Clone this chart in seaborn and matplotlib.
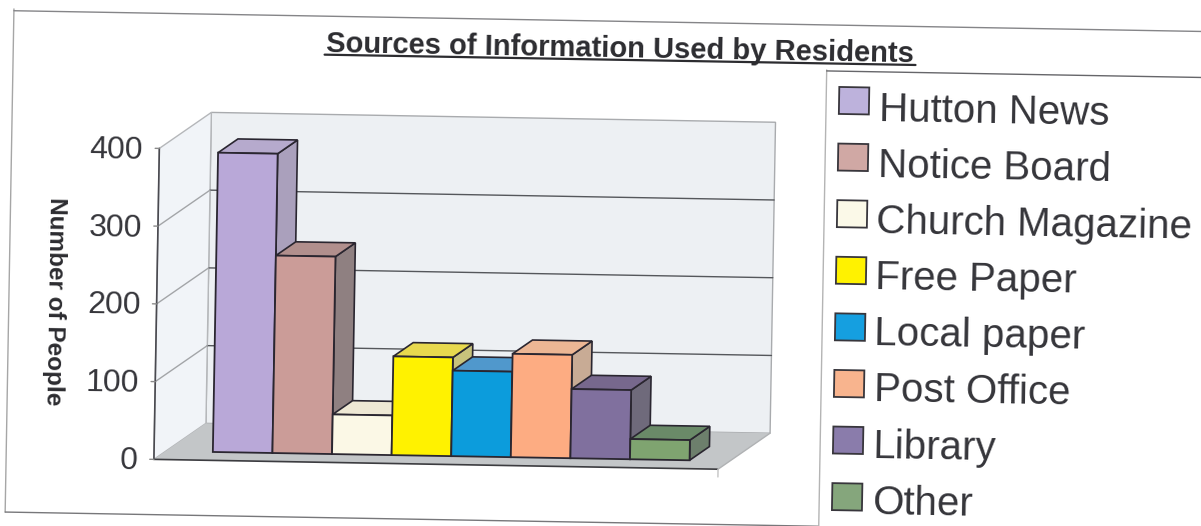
import matplotlib
matplotlib.use("Agg")
import matplotlib.pyplot as plt
import seaborn as sns
from matplotlib.lines import Line2D
from matplotlib.patches import Polygon, Rectangle
from matplotlib.transforms import Affine2D

# values
categories = ["Hutton News", "Notice Board", "Church Magazine", "Free Paper",
              "Local paper", "Post Office", "Library", "Other"]
people = [385, 254, 51, 127, 110, 133, 89, 26]
y_ticks = [0, 100, 200, 300, 400]

front_colors = ["#b9a8d8", "#cb9c98", "#fbf8e6", "#fff200",
                "#0c9cdc", "#fdac82", "#80709e", "#7fa470"]
side_colors = ["#aaa0bc", "#8f8081", "#d8d4c0", "#c8c37c",
               "#3f7fa8", "#c8ab95", "#6f6a7b", "#6d7f6c"]
top_colors = ["#b6aacd", "#b18f8d", "#eee8d4", "#e8d94e",
              "#5098cc", "#ecb694", "#77688d", "#6a8a68"]
legend_colors = ["#bdb2dc", "#d0a8a4", "#fbf9e8", "#fff200",
                 "#159fe0", "#f8b48e", "#8a7cab", "#85a67c"]

W, H = 1201, 526
PX_X = 59.6     # pixels per category
PX_Y = 0.7775   # pixels per person
BASE_X, BASE_Y = 216.2, 458.7

# depth of the fake 3d box
DX = 51.4 / PX_X
DY = 36.9 / PX_Y
BAR_D = 0.228
BAR_BACK = 0.61
X_LEFT = -1.29
X_RIGHT = 8.177

sns.set_theme(style="white")
plt.rcParams["font.family"] = ["Liberation Sans", "DejaVu Sans"]
TEXT = "#35353a"

fig = plt.figure(figsize=(W / 100, H / 100), dpi=100, facecolor="white")
ax = fig.add_axes([0, 0, 1, 1])

sns.barplot(x=categories, y=people, hue=categories, palette=front_colors,
            width=1, dodge=False, saturation=1, legend=False,
            edgecolor="#2a2630", linewidth=1.3, ax=ax)
bars = list(ax.patches)

ax.set_xlim(-0.5 - BASE_X / PX_X, -0.5 + (W - BASE_X) / PX_X)
ax.set_ylim(-(H - BASE_Y) / PX_Y, BASE_Y / PX_Y)
ax.axis("off")


def project(x, v, d):
    return (x + DX * (d - BAR_D), v + DY * (d - BAR_D))


top_v = y_ticks[-1]
# walls and floor
ax.add_patch(Polygon([project(X_LEFT, 0, 1), project(X_RIGHT, 0, 1),
                      project(X_RIGHT, top_v, 1), project(X_LEFT, top_v, 1)],
                     fc="#edf0f3", ec="#a9abae", lw=1, zorder=1))
ax.add_patch(Polygon([project(X_LEFT, 0, 0), project(X_LEFT, 0, 1),
                      project(X_LEFT, top_v, 1), project(X_LEFT, top_v, 0)],
                     fc="#f1f4f8", ec="#b5b7ba", lw=1, zorder=1))
ax.add_patch(Polygon([project(X_LEFT, 0, 0), project(X_RIGHT, 0, 0),
                      project(X_RIGHT, 0, 1), project(X_LEFT, 0, 1)],
                     fc="#c3c6c8", ec="none", zorder=1.5))

# gridlines, on the back wall and the side wall
for v in y_ticks[1:-1]:
    a, b = project(X_LEFT, v, 1), project(X_RIGHT, v, 1)
    ax.plot([a[0], b[0]], [a[1], b[1]], color="#55575b", lw=1, zorder=2)
    a, b = project(X_LEFT, v, 0), project(X_LEFT, v, 1)
    ax.plot([a[0], b[0]], [a[1], b[1]], color="#a3a5a8", lw=1, zorder=2)

# front edges of floor
a, b = project(X_LEFT, 0, 0), project(X_RIGHT, 0, 0)
ax.plot([a[0], b[0]], [a[1], b[1]], color="#3c3c40", lw=1.2, zorder=2)
a, b = project(X_RIGHT, 0, 0), project(X_RIGHT, 0, 1)
ax.plot([a[0], b[0]], [a[1], b[1]], color="#b0b2b4", lw=1, zorder=2)
a = project(X_RIGHT, 0, 0)
ax.plot([a[0], a[0]], [a[1], a[1] - 10], color="#c4c4c4", lw=1, zorder=2)

# value axis with ticks and labels
a, b = project(X_LEFT, 0, 0), project(X_LEFT, top_v, 0)
ax.plot([a[0], b[0]], [a[1], b[1]], color="#4a4a50", lw=1.2, zorder=2.5)
for v in y_ticks:
    a = project(X_LEFT, v, 0)
    ax.plot([a[0] - 0.07, a[0]], [a[1], a[1]], color="#8a8a8a", lw=1, zorder=2.5)
    ax.text(a[0] - 0.27, a[1] - 3.5, str(v), ha="right", va="center", fontsize=23,
            color=TEXT, rotation=-1, rotation_mode="anchor")

# bars get their side and top, each bar sits over the one before it
for i, bar in enumerate(bars):
    l = bar.get_x()
    r = l + bar.get_width()
    h = bar.get_height()
    z = 3 + i
    bar.set_zorder(z + 0.2)
    ax.add_patch(Polygon([project(r, 0, BAR_D), project(r, 0, BAR_BACK),
                          project(r, h, BAR_BACK), project(r, h, BAR_D)],
                         fc=side_colors[i], ec="#2a2630", lw=1.2, zorder=z))
    ax.add_patch(Polygon([project(l, h, BAR_D), project(r, h, BAR_D),
                          project(r, h, BAR_BACK), project(l, h, BAR_BACK)],
                         fc=top_colors[i], ec="#2a2630", lw=1.2, zorder=z))

# the page was scanned slightly crooked, turn everything by one degree
rot = Affine2D().rotate_deg_around(600, H - 263, -1)
for p in ax.patches:
    p.set_transform(p.get_data_transform() + rot)
for art in list(ax.lines) + list(ax.texts):
    art.set_transform(art.get_transform() + rot)

# everything below is placed in image pixels, y down
pix = Affine2D().scale(1, -1).translate(0, H) + rot


def page_line(xs, ys, color, lw):
    fig.add_artist(Line2D(xs, ys, color=color, lw=lw, transform=pix))


page_line([9.6, 9.6], [19.2, 522.4], "#a6a6a6", 1)
page_line([9.6, 1215], [21, 21], "#858588", 1)
page_line([9.6, 823], [522.4, 522.4], "#77777a", 1)
page_line([823.3, 823.3], [66, 540], "#b4b4b4", 1)
page_line([823.3, 1215], [67, 67], "#66666a", 1)

fig.text(616.4, 57, "Sources of Information Used by Residents", transform=pix,
         ha="center", va="baseline", fontsize=21, fontweight="bold", color="#2c2c30",
         rotation=-1, rotation_mode="anchor")
page_line([321, 912], [59.5, 59.5], "#2c2c30", 1.6)

fig.text(55.7, 310.5, "Number of People", transform=pix, ha="center", va="center",
         fontsize=17.5, fontweight="bold", color="#2c2c30",
         rotation=-91, rotation_mode="anchor")

# legend
for i, (name, c) in enumerate(zip(categories, legend_colors)):
    y = 82.8 + 56.6 * i
    fig.add_artist(Rectangle((836.2, y), 30, 27, fc=c, ec="#38363c", lw=1.3,
                             transform=pix))
    fig.text(876, y + 33 - 3 * i / 7, name, transform=pix, ha="left", va="baseline",
             fontsize=29, color=TEXT, rotation=-1, rotation_mode="anchor")

fig.savefig("out.png", dpi=100, facecolor="white")
